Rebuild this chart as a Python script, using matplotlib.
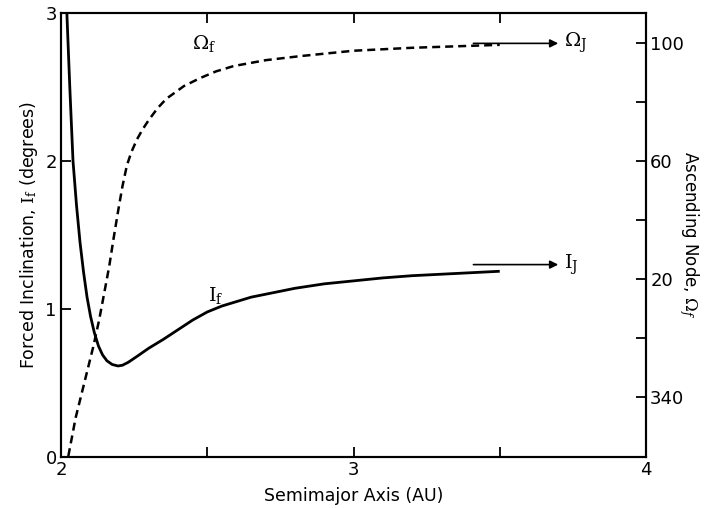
import numpy as np
import matplotlib
matplotlib.use('Agg')
import matplotlib.pyplot as plt
from matplotlib.ticker import FixedLocator

plt.rcParams['font.family'] = ['DejaVu Sans']
plt.rcParams['mathtext.fontset'] = 'dejavuserif'

# forced inclination I_f (degrees) vs semimajor axis (AU)
inc_a = [2.02, 2.03, 2.041, 2.053, 2.065, 2.077, 2.089, 2.101, 2.114, 2.128,
         2.142, 2.157, 2.175, 2.195, 2.21, 2.23, 2.26, 2.3, 2.35, 2.4, 2.45,
         2.5, 2.55, 2.6, 2.65, 2.7, 2.8, 2.9, 3.0, 3.1, 3.2, 3.3, 3.4, 3.5]
inc_i = [3.0, 2.5, 2.0, 1.70, 1.45, 1.25, 1.08, 0.95, 0.84, 0.75,
         0.69, 0.65, 0.625, 0.615, 0.62, 0.64, 0.68, 0.735, 0.795, 0.86, 0.925,
         0.98, 1.02, 1.05, 1.08, 1.10, 1.14, 1.17, 1.19, 1.21, 1.225, 1.235, 1.245, 1.255]

# forced ascending node Omega_f (degrees, negative = 360 - value)
node_a = [2.025, 2.05, 2.07, 2.09, 2.11, 2.13, 2.15, 2.165, 2.18, 2.195, 2.21,
          2.225, 2.24, 2.26, 2.28, 2.3, 2.33, 2.36, 2.42, 2.475, 2.53, 2.59,
          2.7, 2.82, 3.0, 3.2, 3.35, 3.5]
node_w = [-40, -27, -19, -11, -3, 6, 16.5, 24.5, 34, 43, 51.5,
          58.5, 63, 67.5, 71, 74, 78, 81.2, 85.5, 88.2, 90.5, 92.3,
          94.3, 95.7, 97.5, 98.5, 99, 99.5]

# Jupiter values (arrows)
i_jup = 1.30
w_jup = 100

right_ticks = [-20, 20, 60, 100]
right_labels = ['340', '20', '60', '100']
right_minor = [0, 40, 80]

fig = plt.figure(figsize=(7.07, 5.08), dpi=100)
ax = fig.add_axes([0.0863, 0.1004, 0.8274, 0.874])
ax2 = ax.twinx()

ax.plot(inc_a, inc_i, color='black', lw=2.0, solid_capstyle='butt')
ax2.plot(node_a, node_w, color='black', lw=1.8, dashes=(3.2, 2.0))

ax.set_xlim(2, 4)
ax.set_ylim(0, 3)
ax2.set_ylim(-40.3, 110.3)

ax.set_xticks([2, 3, 4])
ax.xaxis.set_minor_locator(FixedLocator([2.5, 3.5]))
ax.set_yticks([0, 1, 2, 3])
ax2.yaxis.set_major_locator(FixedLocator(right_ticks))
ax2.set_yticklabels(right_labels)
ax2.yaxis.set_minor_locator(FixedLocator(right_minor))

for a in (ax, ax2):
    for s in a.spines.values():
        s.set_linewidth(1.5)
ax.tick_params(which='both', direction='in', length=7, width=1.3,
               top=True, labelsize=13, pad=3)
ax2.tick_params(which='both', direction='in', length=7, width=1.3,
                labelsize=13, pad=3)

ax.set_xlabel('Semimajor Axis (AU)', fontsize=12.5, labelpad=6)
ax.set_ylabel(r'Forced Inclination, $\mathrm{I_f}$ (degrees)', fontsize=12.5, labelpad=4)
ax2.set_ylabel(r'Ascending Node, $\Omega_f$', fontsize=12, rotation=270, labelpad=12)

# curve labels
ax.text(2.49, 2.72, r'$\Omega_\mathrm{f}$', fontsize=14, ha='center', va='bottom')
ax.text(2.53, 1.02, r'$\mathrm{I_f}$', fontsize=14, ha='center', va='bottom')

# arrows toward Jupiter's values
ax2.annotate('', xy=(3.70, w_jup), xytext=(3.41, w_jup),
             arrowprops=dict(arrowstyle='-|>', color='black', lw=1.2,
                             mutation_scale=12, shrinkA=0, shrinkB=0))
ax2.text(3.72, w_jup, r'$\Omega_\mathrm{J}$', fontsize=14, ha='left', va='center')
ax.annotate('', xy=(3.70, i_jup), xytext=(3.41, i_jup),
            arrowprops=dict(arrowstyle='-|>', color='black', lw=1.2,
                            mutation_scale=12, shrinkA=0, shrinkB=0))
ax.text(3.72, i_jup, r'$\mathrm{I_J}$', fontsize=14, ha='left', va='center')

fig.savefig('out.png', dpi=100)
